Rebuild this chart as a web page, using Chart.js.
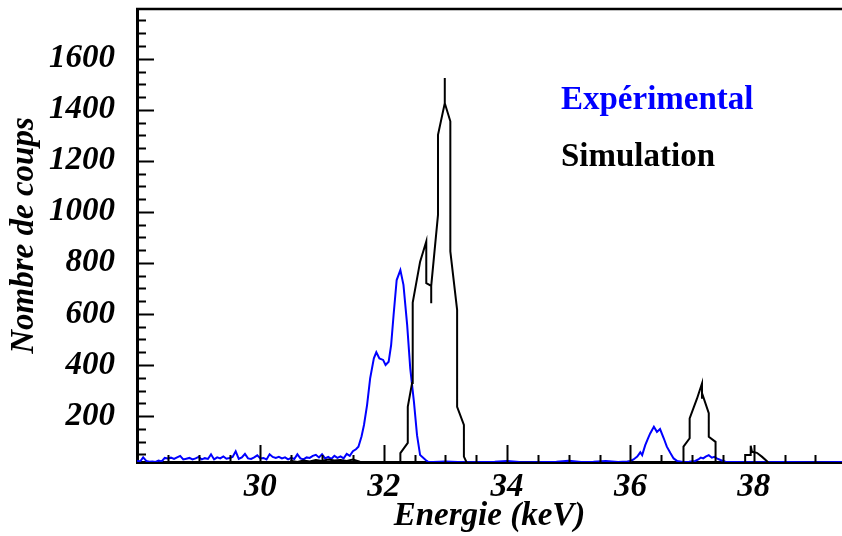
<!DOCTYPE html>
<html>
<head>
<meta charset="utf-8">
<script src="https://cdn.jsdelivr.net/npm/chart.js@4/dist/chart.umd.min.js"></script>
<style>
  html, body { margin: 0; padding: 0; background: #fff; }
</style>
</head>
<body>
<canvas id="spectre" width="842" height="536"></canvas>
<script>
// experimental spectrum (blue)
const expEnergy = [
  28.00, 28.05, 28.10, 28.15, 28.20, 28.25, 28.30, 28.35, 28.40, 28.45,
  28.50, 28.55, 28.60, 28.65, 28.70, 28.75, 28.80, 28.85, 28.90, 28.95,
  29.00, 29.05, 29.10, 29.15, 29.20, 29.25, 29.30, 29.35, 29.40, 29.45,
  29.50, 29.55, 29.60, 29.65, 29.70, 29.75, 29.80, 29.85, 29.90, 29.95,
  30.00, 30.05, 30.10, 30.15, 30.20, 30.25, 30.30, 30.35, 30.40, 30.45,
  30.50, 30.55, 30.60, 30.65, 30.70, 30.75, 30.80, 30.85, 30.90, 30.95,
  31.00, 31.05, 31.10, 31.15, 31.20, 31.25, 31.30, 31.35, 31.40, 31.45,
  31.50, 31.55, 31.59, 31.64, 31.68, 31.73, 31.78, 31.84, 31.88, 31.93,
  31.99, 32.03, 32.08, 32.12, 32.16, 32.21, 32.27, 32.32, 32.38, 32.43,
  32.49, 32.54, 32.59, 32.68, 32.72, 32.80, 33.00, 33.20, 33.40, 33.60,
  33.80, 34.00, 34.20, 34.40, 34.60, 34.80, 35.00, 35.20, 35.40, 35.60,
  35.80, 35.95, 36.00, 36.05, 36.11, 36.16, 36.19, 36.24, 36.28, 36.32,
  36.38, 36.43, 36.48, 36.54, 36.59, 36.65, 36.70, 36.76, 36.85, 36.95,
  37.05, 37.10, 37.14, 37.18, 37.22, 37.27, 37.32, 37.36, 37.40, 37.46,
  37.54, 37.70, 38.00, 38.50, 39.00, 39.43
];
const expCounts = [
  25, 22, 38, 24, 21, 22, 20, 26, 22, 36,
  34, 37, 32, 38, 44, 30, 33, 36, 30, 34,
  40, 30, 35, 32, 50, 30, 38, 34, 42, 33,
  36, 40, 62, 32, 38, 52, 34, 32, 38, 46,
  34, 36, 30, 50, 40, 36, 40, 34, 38, 30,
  36, 32, 50, 34, 30, 38, 36, 44, 48, 38,
  50, 34, 40, 32, 44, 36, 42, 34, 52, 44,
  62, 70, 80, 120, 165, 243, 348, 426, 450, 426,
  420, 400, 413, 478, 596, 733, 772, 714, 557, 387,
  256, 125, 47, 28, 21, 20, 22, 20, 19, 20,
  21, 24, 20, 19, 20, 21, 25, 20, 21, 24,
  20, 22, 24, 30, 41, 58, 47, 86, 110, 132,
  158, 138, 149, 113, 80, 54, 34, 24, 20, 21,
  24, 30, 37, 34, 41, 47, 37, 40, 34, 28,
  21, 20, 19, 20, 19, 20
];

// simulated spectrum (black)
const simEnergy = [
  28.00, 30.45, 30.50, 30.60, 30.70, 30.80, 30.90, 31.00, 31.10, 31.20,
  31.30, 31.40, 31.50, 31.60, 31.70, 32.15, 32.27, 32.27, 32.39, 32.39,
  32.46, 32.47, 32.59, 32.69, 32.69, 32.77, 32.77, 32.77, 32.88, 32.88,
  32.99, 32.99, 32.99, 33.08, 33.08, 33.19, 33.19, 33.30, 33.30, 33.38,
  36.86, 36.86, 36.96, 36.96, 37.08, 37.16, 37.16, 37.16, 37.27, 37.27,
  37.38, 37.38, 37.86, 37.86, 37.95, 37.95, 37.97, 38.05, 38.13, 38.21,
  38.30, 39.43
];
const simCounts = [
  0, 0, 24, 20, 26, 22, 28, 24, 30, 26,
  28, 24, 30, 22, 12, 10, 15, 55, 95, 236,
  330, 645, 805, 884, 721, 710, 642, 710, 988, 1302,
  1426, 1525, 1426, 1355, 845, 616, 236, 165, 41, 0,
  0, 80, 113, 191, 269, 328, 268, 290, 211, 119,
  99, 0, 0, 47, 47, 84, 60, 56, 41, 24,
  0, 0
];

const seriesNames = ['Expérimental', 'Simulation'];
const seriesColors = ['#0000ff', '#000000'];
const xTickLabels = [30, 32, 34, 36, 38];
const yTickLabels = [200, 400, 600, 800, 1000, 1200, 1400, 1600];

const toPoints = (xs, ys) => xs.map((x, i) => ({ x: x, y: ys[i] }));

const serifBI = { family: '"Liberation Serif", "Times New Roman", serif', size: 33, weight: 'bold', style: 'italic' };

// inward tick marks, top frame line and in-plot legend text
const axisMarks = {
  id: 'axisMarks',
  afterDraw(chart) {
    const { ctx, chartArea: a, scales: { x, y } } = chart;
    ctx.save();
    ctx.strokeStyle = '#000';
    ctx.lineWidth = 2;
    ctx.beginPath();
    for (let e = 28.5; e < x.max; e += 0.5) {
      const px = Math.round(x.getPixelForValue(e)) + 0.5;
      const len = (Math.abs(e % 2) < 1e-6) ? 17 : 7;
      ctx.moveTo(px, a.bottom);
      ctx.lineTo(px, a.bottom - len);
    }
    for (let v = 50; v < y.max; v += 50) {
      const py = Math.round(y.getPixelForValue(v)) + 0.5;
      const len = (v % 200 === 0) ? 17 : 9;
      ctx.moveTo(a.left, py);
      ctx.lineTo(a.left + len, py);
    }
    ctx.stroke();
    ctx.lineWidth = 2.5;
    ctx.beginPath();
    ctx.moveTo(a.left - 1, a.top);
    ctx.lineTo(a.right, a.top);
    ctx.stroke();

    ctx.font = 'bold 33px "Liberation Serif", "Times New Roman", serif';
    ctx.textAlign = 'left';
    ctx.textBaseline = 'alphabetic';
    const legendY = [109, 166];
    chart.data.datasets.forEach((ds, i) => {
      ctx.fillStyle = ds.borderColor;
      ctx.fillText(ds.label, 561, legendY[i]);
    });
    ctx.restore();
  }
};

new Chart(document.getElementById('spectre'), {
  type: 'line',
  data: {
    datasets: [
      { label: seriesNames[0], data: toPoints(expEnergy, expCounts), borderColor: seriesColors[0], borderWidth: 2, pointRadius: 0, tension: 0, fill: false, order: 1 },
      { label: seriesNames[1], data: toPoints(simEnergy, simCounts), borderColor: seriesColors[1], borderWidth: 2, pointRadius: 0, tension: 0, fill: false, order: 0 }
    ]
  },
  options: {
    responsive: false,
    animation: false,
    devicePixelRatio: 1,
    layout: { padding: { top: 9, right: 0, left: 0, bottom: 0 } },
    plugins: { legend: { display: false }, tooltip: { enabled: false } },
    scales: {
      x: {
        type: 'linear', min: 28, max: 39.43,
        afterBuildTicks: s => { s.ticks = xTickLabels.map(v => ({ value: v })); },
        afterFit: s => { s.height = 74; s.paddingLeft = 0; s.paddingRight = 0; },
        grid: { display: false, drawTicks: false },
        border: { display: true, color: '#000', width: 3 },
        ticks: { color: '#000', font: serifBI, padding: 6, maxRotation: 0, autoSkip: false, callback: v => String(v) },
        title: { display: true, text: 'Energie (keV)', color: '#000', font: serifBI, padding: { top: 0, bottom: 0 } }
      },
      y: {
        type: 'linear', min: 20, max: 1795,
        afterBuildTicks: s => { s.ticks = yTickLabels.map(v => ({ value: v })); },
        afterFit: s => { s.width = 137; s.paddingTop = 0; s.paddingBottom = 0; },
        grid: { display: false, drawTicks: false },
        border: { display: true, color: '#000', width: 3 },
        ticks: { color: '#000', font: serifBI, padding: 22, autoSkip: false, callback: v => String(v) },
        title: { display: true, text: 'Nombre de coups', color: '#000', font: serifBI, padding: { top: 5, bottom: 0 } }
      }
    }
  },
  plugins: [axisMarks]
});
</script>
</body>
</html>
